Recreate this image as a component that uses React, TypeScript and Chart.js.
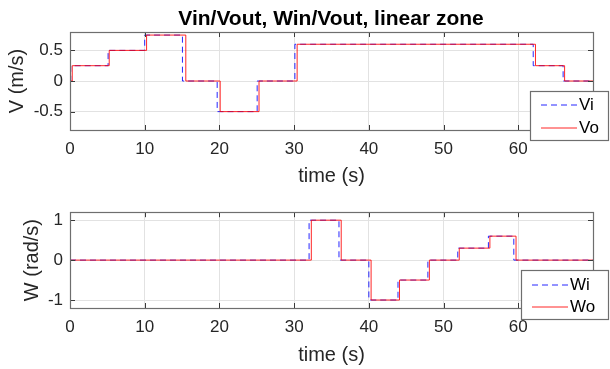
import React, { useEffect, useRef } from 'react';
import { Chart, registerables } from 'chart.js';
Chart.register(...registerables);

const FONT = '"Liberation Sans", Arial, Helvetica, sans-serif';

const chartTitle = 'Vin/Vout, Win/Vout, linear zone';
const xTitle = 'time (s)';
const vTitle = 'V (m/s)';
const wTitle = 'W (rad/s)';
const vLegend = ['Vi', 'Vo'];
const wLegend = ['Wi', 'Wo'];

// step series: level i holds from time i until time i+1
const viTimes = [0, 0.1, 5.1, 10.0, 15.05, 19.7, 25.05, 30.1, 62.0, 66.0, 70];
const viLevels = [0, 0.25, 0.5, 0.75, 0, -0.5, 0, 0.6, 0.25, 0, 0];
const voTimes = [0, 0.3, 5.25, 10.25, 15.5, 20.1, 25.3, 30.4, 62.3, 66.2, 70];
const voLevels = [0, 0.25, 0.5, 0.75, 0, -0.5, 0, 0.6, 0.25, 0, 0];

const wiTimes = [0, 32.0, 36.0, 40.0, 43.9, 47.9, 51.9, 56.0, 59.4, 70];
const wiLevels = [0, 1.0, 0, -1.0, -0.5, 0, 0.3, 0.6, 0, 0];
const woTimes = [0, 32.3, 36.3, 40.3, 44.1, 48.1, 52.1, 56.2, 59.7, 70];
const woLevels = [0, 1.0, 0, -1.0, -0.5, 0, 0.3, 0.6, 0, 0];

const xTicks = [0, 10, 20, 30, 40, 50, 60];
const vTicks = [-0.5, 0, 0.5];
const wTicks = [-1, 0, 1];

const BLUE = 'rgba(0,0,255,0.85)';
const RED = 'rgba(255,0,0,0.85)';
const DASH = [6, 4];

type LegendBox = { x: number; y: number; w: number; h: number; lineX0: number; lineX1: number; textX: number; rows: number[] };

function pts(times: number[], levels: number[]) {
  return times.map((t, i) => ({ x: t, y: levels[i] }));
}

function makeConfig(opts: {
  inT: number[]; inL: number[]; outT: number[]; outL: number[];
  yMin: number; yMax: number; yTicks: number[]; yTitle: string; yTitlePad: number;
  padTop: number; xHeight: number; xTitlePadBottom: number;
  legend: string[]; box: LegendBox; title?: string;
}) {
  const overlay = {
    id: 'overlay',
    afterDatasetsDraw(chart: any) {
      const { ctx, chartArea: a, scales } = chart;
      ctx.save();
      // tick marks (inward)
      ctx.strokeStyle = '#3a3a3a';
      ctx.lineWidth = 1;
      ctx.beginPath();
      xTicks.forEach((v) => {
        const px = Math.round(scales.x.getPixelForValue(v)) + 0.5;
        ctx.moveTo(px, a.bottom); ctx.lineTo(px, a.bottom - 5);
        ctx.moveTo(px, a.top); ctx.lineTo(px, a.top + 5);
      });
      opts.yTicks.forEach((v) => {
        const py = Math.round(scales.y.getPixelForValue(v)) + 0.5;
        ctx.moveTo(a.left, py); ctx.lineTo(a.left + 5, py);
        ctx.moveTo(a.right, py); ctx.lineTo(a.right - 5, py);
      });
      ctx.stroke();
      // frame
      ctx.strokeStyle = '#6e6e6e';
      ctx.lineWidth = 1.2;
      ctx.strokeRect(Math.round(a.left) + 0.5, Math.round(a.top) + 0.5, Math.round(a.right - a.left), Math.round(a.bottom - a.top));
      // legend
      const b = opts.box;
      ctx.fillStyle = '#ffffff';
      ctx.fillRect(b.x, b.y, b.w, b.h);
      ctx.strokeStyle = '#6e6e6e';
      ctx.lineWidth = 1.2;
      ctx.strokeRect(b.x, b.y, b.w, b.h);
      ctx.lineWidth = 1;
      ctx.strokeStyle = BLUE;
      ctx.setLineDash(DASH);
      ctx.beginPath(); ctx.moveTo(b.lineX0, b.rows[0]); ctx.lineTo(b.lineX1, b.rows[0]); ctx.stroke();
      ctx.setLineDash([]);
      ctx.strokeStyle = RED;
      ctx.beginPath(); ctx.moveTo(b.lineX0, b.rows[1]); ctx.lineTo(b.lineX1, b.rows[1]); ctx.stroke();
      ctx.fillStyle = '#000000';
      ctx.font = `17px ${FONT}`;
      ctx.textAlign = 'left';
      ctx.textBaseline = 'middle';
      ctx.fillText(opts.legend[0], b.textX, b.rows[0]);
      ctx.fillText(opts.legend[1], b.textX, b.rows[1]);
      // main title
      if (opts.title) {
        ctx.font = `bold 21px ${FONT}`;
        ctx.textAlign = 'center';
        ctx.textBaseline = 'alphabetic';
        ctx.fillText(opts.title, 331, 25);
      }
      ctx.restore();
    },
  };

  return {
    type: 'line' as const,
    data: {
      datasets: [
        {
          label: opts.legend[1],
          data: pts(opts.outT, opts.outL),
          borderColor: RED,
          borderWidth: 1,
          pointRadius: 0,
          stepped: true,
          fill: false,
          order: 0,
        },
        {
          label: opts.legend[0],
          data: pts(opts.inT, opts.inL),
          borderColor: BLUE,
          borderWidth: 1,
          borderDash: DASH,
          pointRadius: 0,
          stepped: true,
          fill: false,
          order: 1,
        },
      ],
    },
    options: {
      animation: false,
      responsive: false,
      devicePixelRatio: 1,
      layout: { padding: { top: opts.padTop, right: 17, bottom: 0, left: 0 } },
      plugins: { legend: { display: false }, tooltip: { enabled: false }, title: { display: false } },
      scales: {
        x: {
          type: 'linear',
          min: 0,
          max: 70,
          afterBuildTicks: (s: any) => { s.ticks = xTicks.map((v) => ({ value: v })); },
          afterFit: (s: any) => { s.height = opts.xHeight; },
          grid: { color: '#e2e2e2', drawTicks: false, lineWidth: 1 },
          border: { display: false },
          ticks: { color: '#262626', font: { family: FONT, size: 17 }, padding: 9, callback: (v: any) => String(v), maxRotation: 0 },
          title: { display: true, text: xTitle, color: '#262626', font: { family: FONT, size: 20 }, padding: { top: 0, bottom: opts.xTitlePadBottom } },
        },
        y: {
          type: 'linear',
          min: opts.yMin,
          max: opts.yMax,
          afterBuildTicks: (s: any) => { s.ticks = opts.yTicks.map((v) => ({ value: v })); },
          afterFit: (s: any) => { s.width = 70; },
          grid: { color: '#e2e2e2', drawTicks: false, lineWidth: 1 },
          border: { display: false },
          ticks: { color: '#262626', font: { family: FONT, size: 17 }, padding: 7, callback: (v: any) => String(v) },
          title: { display: true, text: opts.yTitle, color: '#262626', font: { family: FONT, size: 20 }, padding: { top: opts.yTitlePad, bottom: 0 } },
        },
      },
    },
    plugins: [overlay],
  };
}

export default function App() {
  const topRef = useRef<HTMLCanvasElement>(null);
  const botRef = useRef<HTMLCanvasElement>(null);

  useEffect(() => {
    const c1 = new Chart(topRef.current as HTMLCanvasElement, makeConfig({
      inT: viTimes, inL: viLevels, outT: voTimes, outL: voLevels,
      yMin: -0.8, yMax: 0.8, yTicks: vTicks, yTitle: vTitle, yTitlePad: 5,
      padTop: 32, xHeight: 65, xTitlePadBottom: 7,
      legend: vLegend,
      box: { x: 530.5, y: 91.5, w: 78, h: 49, lineX0: 541, lineX1: 577, textX: 579, rows: [105, 128] },
      title: chartTitle,
    }) as any);
    const c2 = new Chart(botRef.current as HTMLCanvasElement, makeConfig({
      inT: wiTimes, inL: wiLevels, outT: woTimes, outL: woLevels,
      yMin: -1.2, yMax: 1.2, yTicks: wTicks, yTitle: wTitle, yTitlePad: 20,
      padTop: 16, xHeight: 61, xTitlePadBottom: 2,
      legend: wLegend,
      box: { x: 521.5, y: 75.5, w: 87, h: 49, lineX0: 532, lineX1: 568, textX: 570, rows: [90, 112] },
    }) as any);
    return () => { c1.destroy(); c2.destroy(); };
  }, []);

  return (
    <div style={{ position: 'absolute', left: 0, top: 0, width: 610, height: 369, background: '#ffffff' }}>
      <canvas ref={topRef} width={610} height={195} style={{ position: 'absolute', left: 0, top: 0, width: 610, height: 195 }} />
      <canvas ref={botRef} width={610} height={174} style={{ position: 'absolute', left: 0, top: 195, width: 610, height: 174 }} />
    </div>
  );
}
